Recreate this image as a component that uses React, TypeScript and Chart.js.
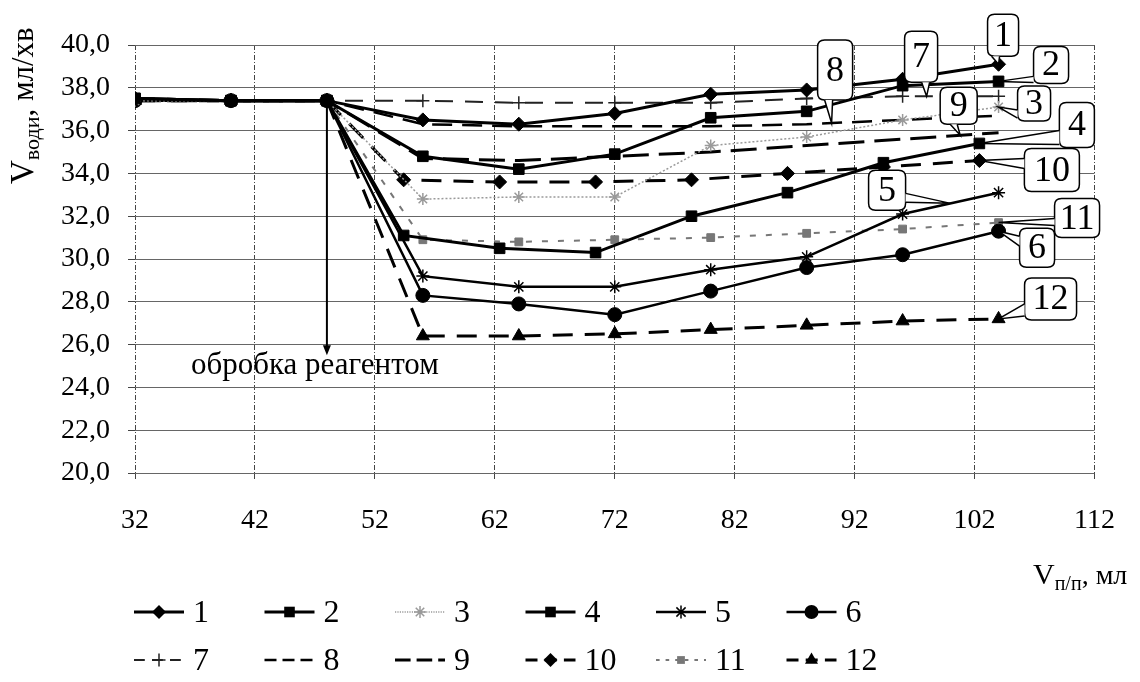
import React, { useEffect, useRef } from "react";
import { Chart, registerables } from "chart.js";

Chart.register(...registerables);

// x positions of the measurements (ml of filtrate)
const xMain = [32, 40, 48, 56, 64, 72, 80, 88, 96, 104];
const xShifted = [32, 40, 48, 54.4, 62.4, 70.4, 78.4, 86.4, 94.4, 102.4];

// water flow rate, ml/min
const s1 = [37.5, 37.4, 37.4, 36.5, 36.3, 36.8, 37.7, 37.9, 38.4, 39.1];
const s2 = [37.5, 37.4, 37.4, 34.8, 34.2, 34.9, 36.6, 36.9, 38.1, 38.3];
const s3 = [37.4, 37.4, 37.4, 32.8, 32.9, 32.9, 35.3, 35.7, 36.5, 37.1];
const s4 = [37.5, 37.4, 37.4, 31.1, 30.5, 30.3, 32.0, 33.1, 34.5, 35.4];
const s5 = [37.4, 37.4, 37.4, 29.2, 28.7, 28.7, 29.5, 30.1, 32.1, 33.1];
const s6 = [37.4, 37.4, 37.4, 28.3, 27.9, 27.4, 28.5, 29.6, 30.2, 31.3];
const s7 = [37.4, 37.4, 37.4, 37.4, 37.3, 37.3, 37.3, 37.5, 37.6, 37.6];
const s8 = [37.4, 37.4, 37.4, 36.3, 36.2, 36.2, 36.2, 36.3, 36.5, 36.7];
const s9 = [37.4, 37.4, 37.4, 34.7, 34.6, 34.8, 35.0, 35.3, 35.6, 35.9];
const s10 = [37.5, 37.4, 37.4, 33.7, 33.6, 33.6, 33.7, 34.0, 34.3, 34.6];
const s11 = [37.4, 37.4, 37.4, 30.9, 30.8, 30.9, 31.0, 31.2, 31.4, 31.7];
const s12 = [37.4, 37.4, 37.4, 26.4, 26.4, 26.5, 26.7, 26.9, 27.1, 27.2];

const seriesNames = ["1", "2", "3", "4", "5", "6", "7", "8", "9", "10", "11", "12"];
const seriesY = [s1, s2, s3, s4, s5, s6, s7, s8, s9, s10, s11, s12];
const seriesX = [xMain, xMain, xMain, xShifted, xMain, xMain, xMain, xMain, xMain, xShifted, xMain, xMain];

const xTickValues = [32, 42, 52, 62, 72, 82, 92, 102, 112];
const yTickValues = [20, 22, 24, 26, 28, 30, 32, 34, 36, 38, 40];

const treatmentX = 48;
const treatmentArrowEnd = 25.5;
const treatmentText = "обробка реагентом";

const SERIF = "'Liberation Serif', 'Times New Roman', serif";

type Style = { color: string; width: number; dash: number[]; point: string | null; r: number };
const styles: Style[] = [
  { color: "#000", width: 3, dash: [], point: "rectRot", r: 7 },
  { color: "#000", width: 3, dash: [], point: "rect", r: 7.5 },
  { color: "#9a9a9a", width: 1.5, dash: [2, 2], point: "star", r: 6 },
  { color: "#000", width: 3, dash: [], point: "rect", r: 7.5 },
  { color: "#000", width: 2.5, dash: [], point: "star", r: 6.5 },
  { color: "#000", width: 2.5, dash: [], point: "circle", r: 7 },
  { color: "#222", width: 2, dash: [18, 12], point: "cross", r: 6.5 },
  { color: "#000", width: 2.5, dash: [20, 10], point: null, r: 0 },
  { color: "#000", width: 3, dash: [26, 10], point: null, r: 0 },
  { color: "#000", width: 3, dash: [20, 12], point: "rectRot", r: 7 },
  { color: "#777", width: 2, dash: [6, 10], point: "rect", r: 5.5 },
  { color: "#000", width: 3, dash: [20, 12], point: "triangle", r: 7.5 },
];

// Numbered call-outs: series, (fractional) point index, box offset from the tip, box size, tail base on the box
type Callout = { ds: number; idx: number; dx: number; dy: number; w: number; h: number; a: [number, number]; b: [number, number] };
const callouts: Callout[] = [
  { ds: 0, idx: 9, dx: -11, dy: -50, w: 31, h: 42, a: [4, 42], b: [12, 42] },
  { ds: 1, idx: 9, dx: 35, dy: -35, w: 35, h: 37, a: [0, 30], b: [0, 36] },
  { ds: 2, idx: 9, dx: 19, dy: -21, w: 33, h: 35, a: [0, 24], b: [0, 32] },
  { ds: 3, idx: 9, dx: 80, dy: -41, w: 35, h: 45, a: [0, 28], b: [0, 42] },
  { ds: 4, idx: 8.5, dx: -82, dy: -33, w: 37, h: 40, a: [37, 23], b: [37, 32] },
  { ds: 5, idx: 9, dx: 21, dy: -3, w: 35, h: 39, a: [0, 8], b: [0, 18] },
  { ds: 6, idx: 8.25, dx: -22, dy: -65, w: 33, h: 51, a: [17, 51], b: [25, 51] },
  { ds: 7, idx: 7.26, dx: -14, dy: -83, w: 35, h: 60, a: [7, 60], b: [15, 60] },
  { ds: 8, idx: 8.6, dx: -20, dy: -48, w: 37, h: 37, a: [10, 37], b: [17, 37] },
  { ds: 9, idx: 9, dx: 45, dy: -12, w: 55, h: 43, a: [0, 10], b: [0, 20] },
  { ds: 10, idx: 9, dx: 56, dy: -24, w: 45, h: 39, a: [0, 20], b: [0, 27] },
  { ds: 11, idx: 9, dx: 26, dy: -41, w: 52, h: 42, a: [0, 26], b: [0, 38] },
];

function fmt(v: number) {
  return v.toFixed(1).replace(".", ",");
}

function drawMarker(ctx: CanvasRenderingContext2D, style: string, x: number, y: number, r: number, color: string) {
  ctx.save();
  ctx.fillStyle = color;
  ctx.strokeStyle = color;
  ctx.lineWidth = 1.5;
  ctx.setLineDash([]);
  ctx.beginPath();
  if (style === "rect") {
    const s = r * Math.SQRT1_2;
    ctx.rect(x - s, y - s, 2 * s, 2 * s);
    ctx.fill();
  } else if (style === "rectRot") {
    ctx.moveTo(x, y - r);
    ctx.lineTo(x + r, y);
    ctx.lineTo(x, y + r);
    ctx.lineTo(x - r, y);
    ctx.closePath();
    ctx.fill();
  } else if (style === "circle") {
    ctx.arc(x, y, r, 0, Math.PI * 2);
    ctx.fill();
  } else if (style === "triangle") {
    ctx.moveTo(x, y - r);
    ctx.lineTo(x + r * 0.87, y + r * 0.5);
    ctx.lineTo(x - r * 0.87, y + r * 0.5);
    ctx.closePath();
    ctx.fill();
  } else if (style === "cross") {
    ctx.moveTo(x - r, y);
    ctx.lineTo(x + r, y);
    ctx.moveTo(x, y - r);
    ctx.lineTo(x, y + r);
    ctx.stroke();
  } else if (style === "star") {
    for (let k = 0; k < 4; k++) {
      const ang = (k * Math.PI) / 4;
      ctx.moveTo(x - r * Math.cos(ang), y - r * Math.sin(ang));
      ctx.lineTo(x + r * Math.cos(ang), y + r * Math.sin(ang));
    }
    ctx.stroke();
  }
  ctx.restore();
}

// Draws a run of text pieces, each with its own size and baseline shift
function drawRich(ctx: CanvasRenderingContext2D, parts: { t: string; size: number; shift: number }[], x: number, y: number) {
  let cx = x;
  for (const p of parts) {
    ctx.font = `${p.size}px ${SERIF}`;
    ctx.fillText(p.t, cx, y + p.shift);
    cx += ctx.measureText(p.t).width;
  }
}

function roundRect(ctx: CanvasRenderingContext2D, x: number, y: number, w: number, h: number, r: number) {
  ctx.beginPath();
  ctx.moveTo(x + r, y);
  ctx.lineTo(x + w - r, y);
  ctx.quadraticCurveTo(x + w, y, x + w, y + r);
  ctx.lineTo(x + w, y + h - r);
  ctx.quadraticCurveTo(x + w, y + h, x + w - r, y + h);
  ctx.lineTo(x + r, y + h);
  ctx.quadraticCurveTo(x, y + h, x, y + h - r);
  ctx.lineTo(x, y + r);
  ctx.quadraticCurveTo(x, y, x + r, y);
  ctx.closePath();
}

const decorPlugin = {
  id: "decor",
  afterDatasetsDraw(chart: any) {
    const ctx: CanvasRenderingContext2D = chart.ctx;
    const xs = chart.scales.x;
    const ys = chart.scales.y;

    // treatment arrow and caption
    const ax = xs.getPixelForValue(treatmentX);
    const ay1 = ys.getPixelForValue(s1[xMain.indexOf(treatmentX)]);
    const ay2 = ys.getPixelForValue(treatmentArrowEnd);
    ctx.save();
    ctx.fillStyle = "#000";
    ctx.font = `31px ${SERIF}`;
    ctx.textAlign = "center";
    ctx.textBaseline = "alphabetic";
    ctx.fillText(treatmentText, ax - 12, ay2 + 19);
    ctx.strokeStyle = "#000";
    ctx.lineWidth = 2;
    ctx.beginPath();
    ctx.moveTo(ax, ay1);
    ctx.lineTo(ax, ay2 - 6);
    ctx.stroke();
    ctx.beginPath();
    ctx.moveTo(ax, ay2);
    ctx.lineTo(ax - 4, ay2 - 10);
    ctx.lineTo(ax + 4, ay2 - 10);
    ctx.closePath();
    ctx.fill();
    ctx.restore();

    // numbered call-outs
    for (const c of callouts) {
      const xsArr = seriesX[c.ds];
      const ysArr = seriesY[c.ds];
      const i = Math.floor(c.idx);
      const f = c.idx - i;
      const j = Math.min(i + 1, xsArr.length - 1);
      const vx = xsArr[i] + f * (xsArr[j] - xsArr[i]);
      const vy = ysArr[i] + f * (ysArr[j] - ysArr[i]);
      const tx = xs.getPixelForValue(vx);
      const ty = ys.getPixelForValue(vy);
      const bx = tx + c.dx;
      const by = ty + c.dy;
      ctx.save();
      ctx.setLineDash([]);
      ctx.lineWidth = 1.5;
      ctx.strokeStyle = "#000";
      ctx.fillStyle = "#fff";
      roundRect(ctx, bx, by, c.w, c.h, 7);
      ctx.fill();
      ctx.stroke();
      // tail
      ctx.beginPath();
      ctx.moveTo(bx + c.a[0], by + c.a[1]);
      ctx.lineTo(tx, ty);
      ctx.lineTo(bx + c.b[0], by + c.b[1]);
      ctx.closePath();
      ctx.fill();
      ctx.beginPath();
      ctx.moveTo(bx + c.a[0], by + c.a[1]);
      ctx.lineTo(tx, ty);
      ctx.lineTo(bx + c.b[0], by + c.b[1]);
      ctx.stroke();
      ctx.fillStyle = "#000";
      ctx.font = `36px ${SERIF}`;
      ctx.textAlign = "center";
      ctx.textBaseline = "middle";
      ctx.fillText(seriesNames[c.ds], bx + c.w / 2, by + c.h / 2 + 1);
      ctx.restore();
    }
  },
  afterDraw(chart: any) {
    const ctx: CanvasRenderingContext2D = chart.ctx;
    ctx.save();
    ctx.fillStyle = "#000";
    ctx.textAlign = "left";
    ctx.textBaseline = "alphabetic";

    // y axis title (rotated)
    ctx.save();
    ctx.translate(33, 184);
    ctx.rotate(-Math.PI / 2);
    drawRich(ctx, [
      { t: "V", size: 33, shift: 0 },
      { t: "води", size: 22, shift: 6 },
      { t: ", мл/хв", size: 31, shift: 0 },
    ], 0, 0);
    ctx.restore();

    // x axis title
    drawRich(ctx, [
      { t: "V", size: 30, shift: 0 },
      { t: "п/п", size: 20, shift: 6 },
      { t: ", мл", size: 28, shift: 0 },
    ], 1033, 584);

    // legend, two rows of six
    const cols = 6;
    for (let k = 0; k < seriesNames.length; k++) {
      const st = styles[k];
      const col = k % cols;
      const row = Math.floor(k / cols);
      const x0 = 134 + col * 130.5;
      const y0 = 612 + row * 48;
      ctx.save();
      ctx.strokeStyle = st.color;
      ctx.lineWidth = st.width;
      ctx.setLineDash(st.dash.map((d) => d * 0.6));
      ctx.beginPath();
      ctx.moveTo(x0, y0);
      ctx.lineTo(x0 + 50, y0);
      ctx.stroke();
      ctx.restore();
      if (st.point) drawMarker(ctx, st.point, x0 + 25, y0, st.r, st.color);
      ctx.fillStyle = "#000";
      ctx.font = `32px ${SERIF}`;
      ctx.textBaseline = "middle";
      ctx.fillText(seriesNames[k], x0 + 59, y0 + 2);
    }
    ctx.restore();
  },
};

export default function App() {
  const canvasRef = useRef<HTMLCanvasElement | null>(null);

  useEffect(() => {
    document.body.style.margin = "0";
    const canvas = canvasRef.current;
    if (!canvas) return;

    const datasets = seriesY.map((ys, i) => {
      const st = styles[i];
      return {
        label: seriesNames[i],
        data: seriesX[i].map((x, j) => ({ x, y: ys[j] })),
        borderColor: st.color,
        backgroundColor: st.color,
        borderWidth: st.width,
        borderDash: st.dash,
        tension: 0,
        pointStyle: st.point || "circle",
        pointRadius: st.point ? st.r : 0,
        pointHoverRadius: st.point ? st.r : 0,
        pointBackgroundColor: st.color,
        pointBorderColor: st.color,
        pointBorderWidth: st.point === "star" || st.point === "cross" ? 1.5 : 1,
      };
    });

    Chart.defaults.font.family = SERIF;
    Chart.defaults.color = "#000";

    const chart = new Chart(canvas, {
      type: "line",
      data: { datasets },
      options: {
        responsive: false,
        animation: false,
        layout: { padding: { left: 0, top: 45, right: 45, bottom: 0 } },
        plugins: { legend: { display: false }, tooltip: { enabled: false } },
        scales: {
          x: {
            type: "linear",
            min: 32,
            max: 112,
            afterBuildTicks: (scale: any) => {
              scale.ticks = xTickValues.map((v) => ({ value: v }));
            },
            afterFit: (scale: any) => {
              scale.height = 209;
            },
            ticks: {
              font: { size: 28, family: SERIF },
              color: "#000",
              padding: 25,
              maxRotation: 0,
              autoSkip: false,
              callback: (v: any) => String(v),
            },
            grid: { color: "#444", lineWidth: 1, tickLength: 6, tickColor: "#444", tickBorderDash: [] },
            border: { display: false, dash: [5, 2, 1, 2] },
          },
          y: {
            type: "linear",
            min: 20,
            max: 40,
            afterBuildTicks: (scale: any) => {
              scale.ticks = yTickValues.map((v) => ({ value: v }));
            },
            afterFit: (scale: any) => {
              scale.width = 135;
            },
            ticks: {
              font: { size: 28, family: SERIF },
              color: "#000",
              padding: 18,
              autoSkip: false,
              callback: (v: any) => fmt(Number(v)),
            },
            grid: { color: "#666", lineWidth: 1, tickLength: 7, tickColor: "#444" },
            border: { display: false },
          },
        },
      },
      plugins: [decorPlugin],
    } as any);

    return () => chart.destroy();
  }, []);

  return (
    <div style={{ position: "absolute", left: 0, top: 0, width: 1140, height: 682, background: "#fff" }}>
      <canvas ref={canvasRef} width={1140} height={682} />
    </div>
  );
}
